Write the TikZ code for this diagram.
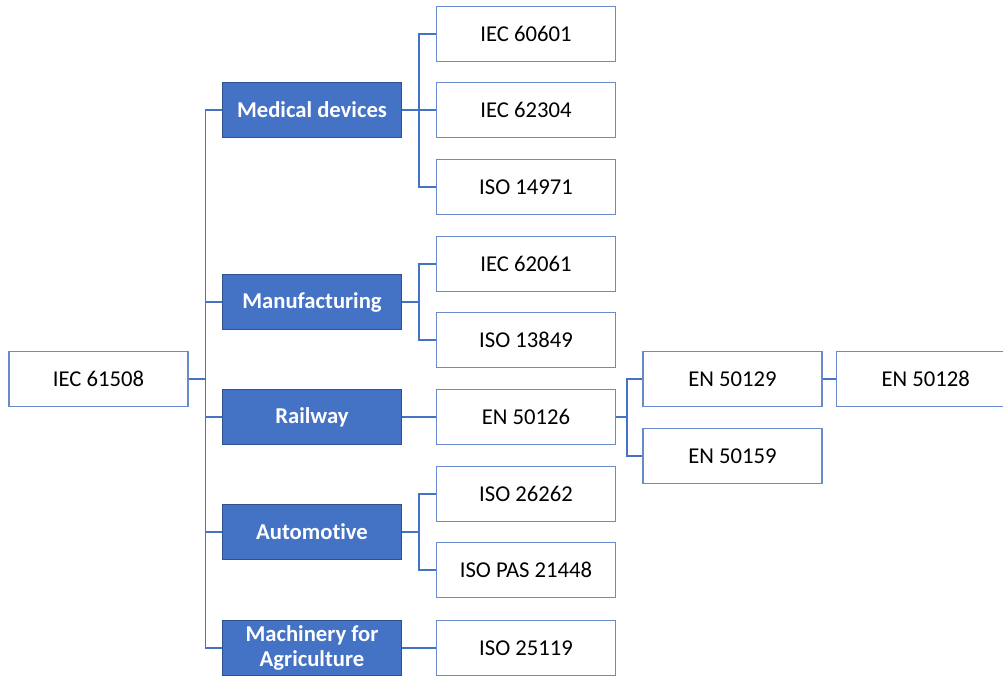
\documentclass[tikz,border=0pt]{standalone}
\usepackage{fontspec}
\setmainfont[Ligatures=NoCommon]{Carlito}
\usetikzlibrary{positioning}
\definecolor{office}{HTML}{4472C4}
\definecolor{officedk}{HTML}{2F528F}
\definecolor{edgeblue}{HTML}{6A8BCB}
\tikzset{std/.style={draw=edgeblue,line width=1.2pt,fill=white,minimum width=134pt,minimum height=41pt,
                     inner sep=2pt,align=center,font=\fontsize{17}{19}\selectfont},
         sector/.style={std,fill=office,draw=officedk,text=white,font=\fontsize{17}{19}\selectfont\bfseries},
         link/.style={draw=office,line width=1.2pt}}
\begin{document}
\begin{tikzpicture}[x=0.75pt,y=-0.75pt]
 \clip (0,0) rectangle (1003,675);
 \fill[white] (0,0) rectangle (1003,675);
 % root and sectors
 \node[std] (root) at (98.5,379) {IEC 61508};
 \node[sector] (med) at (312,110) {Medical devices};
 \node[sector] (manu) at (312,302) {Manufacturing};
 \node[sector] (rail) at (312,417) {Railway};
 \node[sector] (auto) at (312,532) {Automotive};
 \node[sector] (agri) at (312,648) {Machinery for\\ Agriculture};
 % sector standards
 \node[std] (s60601) at (526,34) {IEC 60601};
 \node[std] (s62304) at (526,110) {IEC 62304};
 \node[std] (s14971) at (526,187) {ISO 14971};
 \node[std] (s62061) at (526,264) {IEC 62061};
 \node[std] (s13849) at (526,340) {ISO 13849};
 \node[std] (s50126) at (526,417) {EN 50126};
 \node[std] (s26262) at (526,494) {ISO 26262};
 \node[std] (s21448) at (526,570) {ISO PAS 21448};
 \node[std] (s25119) at (526,648) {ISO 25119};
 % railway subtree
 \node[std] (s50129) at (732.5,379) {EN 50129};
 \node[std] (s50159) at (732.5,456) {EN 50159};
 \node[std,right=9.75pt of s50129] (s50128) {EN 50128};
 % connectors
 \foreach \n in {med,manu,rail,auto,agri} \draw[link] (root.east) -- ++(17,0) |- (\n.west);
 \foreach \n in {s60601,s62304,s14971} \draw[link] (med.east) -- ++(17,0) |- (\n.west);
 \foreach \n in {s62061,s13849} \draw[link] (manu.east) -- ++(17,0) |- (\n.west);
 \foreach \n in {s26262,s21448} \draw[link] (auto.east) -- ++(17,0) |- (\n.west);
 \draw[link] (rail.east) -- (s50126.west);
 \draw[link] (agri.east) -- (s25119.west);
 \foreach \n in {s50129,s50159} \draw[link] (s50126.east) -- ++(11,0) |- (\n.west);
 \draw[link] (s50129.east) -- (s50128.west);
\end{tikzpicture}
\end{document}
